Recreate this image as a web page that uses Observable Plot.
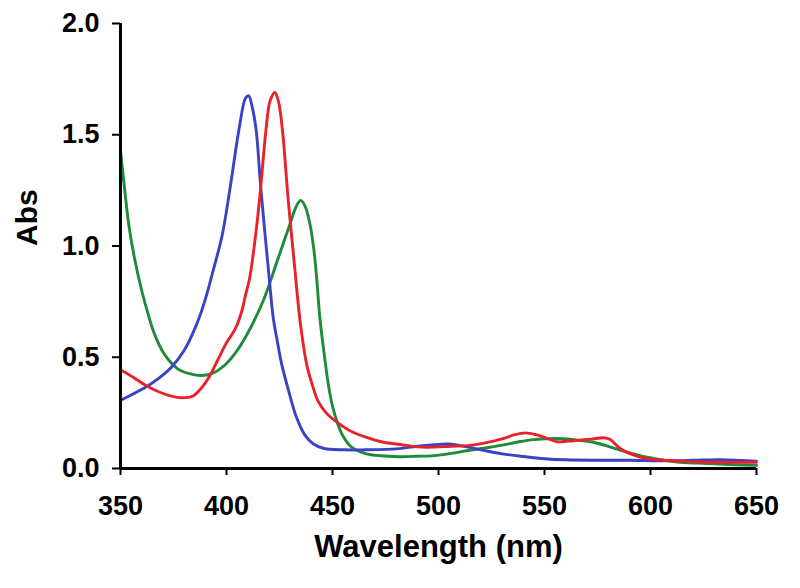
<!DOCTYPE html>
<html>
<head>
<meta charset="utf-8">
<script src="https://cdn.jsdelivr.net/npm/d3@7"></script>
<script src="https://cdn.jsdelivr.net/npm/@observablehq/plot@0.6"></script>
<style>
  html, body { margin: 0; padding: 0; background: #fff; }
  #chart svg text { font-weight: bold; }
</style>
</head>
<body>
<div id="chart"></div>
<script>
// Axis ticks
const xTicks = [350, 400, 450, 500, 550, 600, 650];
const yTicks = [0, 0.5, 1.0, 1.5, 2.0];

// Blue series
const blueNm  = [350, 355, 362, 368, 374, 380, 386, 390, 394, 398, 402, 406, 409, 410.5, 412, 414, 416, 418, 420, 422, 424, 426, 429, 433, 437, 441, 446, 455, 465, 480, 490, 500, 505, 514, 522, 530, 540, 550, 560, 575, 590, 605, 620, 633, 643, 650];
const blueAbs = [0.306, 0.33, 0.366, 0.405, 0.455, 0.53, 0.65, 0.76, 0.9, 1.05, 1.28, 1.53, 1.665, 1.675, 1.63, 1.52, 1.28, 1.07, 0.87, 0.68, 0.57, 0.47, 0.36, 0.23, 0.15, 0.11, 0.09, 0.084, 0.084, 0.088, 0.1, 0.108, 0.11, 0.096, 0.08, 0.066, 0.054, 0.044, 0.039, 0.037, 0.037, 0.035, 0.037, 0.04, 0.036, 0.033];

// Red series
const redNm  = [350, 356, 362, 368, 374, 379, 384, 388, 392, 396, 400, 404, 407, 409, 411, 414, 416, 418.6, 420.5, 422.8, 424.5, 426.4, 429, 432, 435, 438, 441, 443, 447, 451, 458, 466, 474, 482, 490, 498, 506, 514, 522, 530, 536, 541, 546, 550, 556, 561, 566, 572, 578, 581, 585, 590, 598, 608, 620, 630, 650];
const redAbs = [0.444, 0.41, 0.373, 0.345, 0.325, 0.318, 0.325, 0.36, 0.415, 0.49, 0.565, 0.625, 0.7, 0.78, 0.86, 1.07, 1.25, 1.52, 1.65, 1.69, 1.65, 1.52, 1.22, 0.92, 0.64, 0.46, 0.36, 0.306, 0.25, 0.216, 0.171, 0.14, 0.118, 0.108, 0.097, 0.096, 0.1, 0.103, 0.115, 0.133, 0.152, 0.16, 0.152, 0.14, 0.12, 0.123, 0.127, 0.132, 0.138, 0.13, 0.095, 0.068, 0.045, 0.036, 0.031, 0.028, 0.028];

// Green series
const greenNm  = [350, 352, 354, 356.5, 360, 363, 366, 370.6, 377, 383, 388, 393, 399, 405, 411.5, 418, 424, 430, 433, 435, 437, 439, 441, 442.5, 444, 446, 448, 450, 452.5, 455, 459, 466, 475, 482, 490, 498, 506, 514, 522, 530, 538, 545, 550, 556, 561, 567, 573, 579, 584, 589, 596, 602, 608, 614, 622, 630, 640, 650];
const greenAbs = [1.43, 1.25, 1.09, 0.95, 0.8, 0.695, 0.605, 0.515, 0.448, 0.425, 0.418, 0.426, 0.463, 0.53, 0.635, 0.77, 0.935, 1.1, 1.18, 1.205, 1.18, 1.115, 1.0, 0.86, 0.68, 0.52, 0.38, 0.28, 0.2, 0.145, 0.096, 0.066, 0.056, 0.053, 0.055, 0.058, 0.068, 0.081, 0.092, 0.105, 0.12, 0.13, 0.133, 0.135, 0.133, 0.126, 0.118, 0.103, 0.088, 0.073, 0.055, 0.044, 0.035, 0.028, 0.024, 0.021, 0.017, 0.014];

const zip = (xs, ys) => xs.map((x, i) => ({nm: x, abs: ys[i]}));
const blue = zip(blueNm, blueAbs);
const red = zip(redNm, redAbs);
const green = zip(greenNm, greenAbs);

const font = "'Liberation Sans', Arial, Helvetica, sans-serif";

const chart = Plot.plot({
  width: 800,
  height: 588,
  marginLeft: 120,
  marginRight: 44,
  marginTop: 23,
  marginBottom: 120,
  style: {fontFamily: font, background: "#fff", color: "#000"},
  x: {domain: [350, 650]},
  y: {domain: [0, 2]},
  marks: [
    Plot.axisX({ticks: xTicks, tickSize: 7, tickPadding: 20, tickFormat: d => String(d), fontSize: 27, fontWeight: "bold", strokeWidth: 2, label: null}),
    Plot.axisY({ticks: yTicks, tickSize: 8, tickPadding: 13, tickFormat: d => d.toFixed(1), fontSize: 27, fontWeight: "bold", strokeWidth: 2, label: null}),
    Plot.line(green, {x: "nm", y: "abs", stroke: "#1f8a3a", strokeWidth: 2.9, curve: "catmull-rom"}),
    Plot.line(blue, {x: "nm", y: "abs", stroke: "#3a43c4", strokeWidth: 2.9, curve: "catmull-rom"}),
    Plot.line(red, {x: "nm", y: "abs", stroke: "#e8222a", strokeWidth: 2.9, curve: "catmull-rom"}),
    Plot.ruleX([350], {stroke: "#000", strokeWidth: 3}),
    Plot.ruleY([0], {stroke: "#000", strokeWidth: 3}),
    Plot.text(["Wavelength (nm)"], {frameAnchor: "bottom", dy: 88, fontSize: 31, fontWeight: "bold", fill: "#000"}),
    Plot.text(["Abs"], {frameAnchor: "left", dx: -93, rotate: -90, fontSize: 30, fontWeight: "bold", fill: "#000"})
  ]
});
document.getElementById("chart").appendChild(chart);
</script>
</body>
</html>
